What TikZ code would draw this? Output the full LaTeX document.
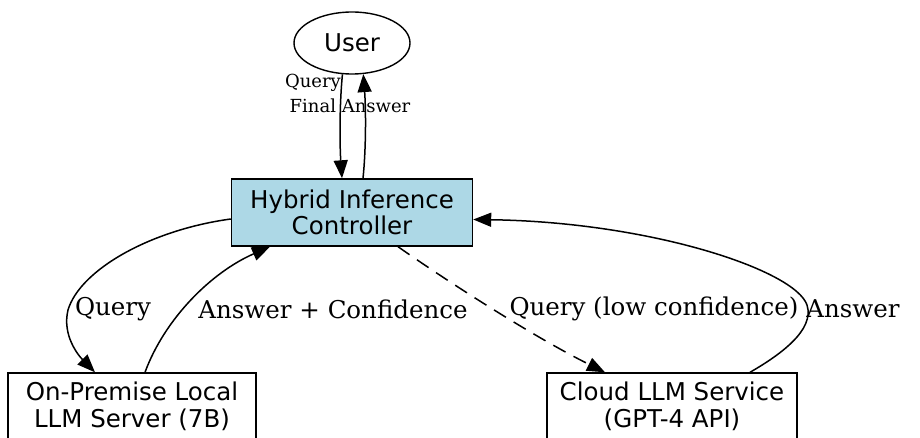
\documentclass[tikz,border=0pt]{standalone}
\usepackage{fontspec}
\setmainfont{DejaVu Serif}
\newfontfamily\nodefont{DejaVu Sans}
\usetikzlibrary{arrows.meta,shapes.geometric}
\definecolor{ctrlblue}{HTML}{ADD8E6}
\tikzset{
  nodetext/.style={font=\nodefont\fontsize{24.5}{26.5}\selectfont, align=center, inner sep=0pt},
  boxnode/.style={nodetext, draw, line width=1.4pt, rectangle},
  arr/.style={line width=1.5pt, -{Triangle[length=18pt,width=14pt]}},
  biglabel/.style={font=\fontsize{24.5}{28}\selectfont, inner sep=0pt},
  smalllabel/.style={font=\fontsize{18}{21}\selectfont, inner sep=0pt},
}
\begin{document}
\begin{tikzpicture}[x=1pt,y=-1pt]
\useasboundingbox (0,0) rectangle (920,438);
\clip (0,0) rectangle (920,438);
\node[nodetext, draw, line width=1.4pt, ellipse, minimum width=116pt, minimum height=62pt] (user) at (352,43) {User};
\node[boxnode, fill=ctrlblue, minimum width=241pt, minimum height=67pt] (ctrl) at (352,212.5) {Hybrid Inference\\Controller};
\node[boxnode, minimum width=248pt, minimum height=67pt] (local) at (132,406.5) {On-Premise Local\\LLM Server (7B)};
\node[boxnode, minimum width=250pt, minimum height=67pt] (cloud) at (672,406.5) {Cloud LLM Service\\(GPT-4 API)};

\draw[arr] (user.253) .. controls (339,110) and (340,150) .. ([xshift=-10pt]ctrl.north);
\draw[arr] ([xshift=11pt]ctrl.north) .. controls (366,150) and (366,110) .. (user.290);
\node[smalllabel] (lq) at (313,83) {Query};
\node[smalllabel] (lfa) at (350,106) {Final Answer};

\draw[arr] ([yshift=-6.5pt]ctrl.west) .. controls (150,230) and (80,270) .. (68,310)
  .. controls (62,335) and (78,355) .. ([xshift=-37pt]local.north);
\node[biglabel] (l1) at (113,309) {Query};

\draw[arr] ([xshift=13pt]local.north) .. controls (165,318) and (212,272) .. ([xshift=-82pt]ctrl.south);
\node[biglabel] (l2) at (333,309) {Answer + Confidence};

\draw[arr, dashed, dash pattern=on 14pt off 9pt] ([xshift=46pt]ctrl.south) .. controls (460,290) and (540,340) .. ([xshift=-67pt]cloud.north);
\node[biglabel] (l3) at (654,309) {Query (low confidence)};

\draw[arr] ([xshift=78pt]cloud.north) .. controls (780,355) and (815,330) .. (807,305)
  .. controls (795,270) and (650,222) .. ([yshift=-7pt]ctrl.east);
\node[biglabel] (l4) at (853,309) {Answer};
\end{tikzpicture}
\end{document}
